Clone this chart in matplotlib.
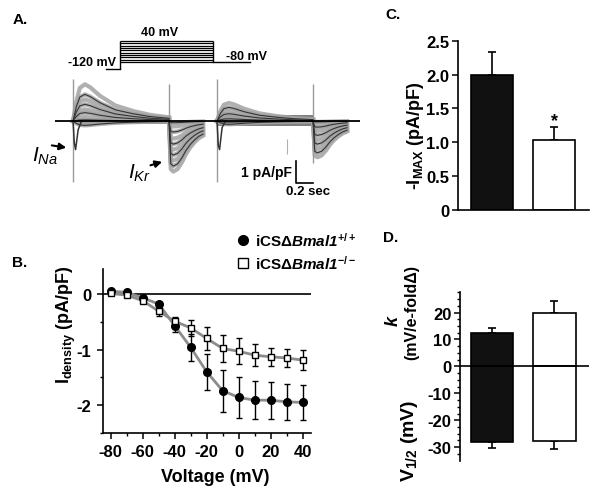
import matplotlib.pyplot as plt
from matplotlib.lines import Line2D

plt.rcParams['font.family'] = ['Liberation Sans', 'DejaVu Sans']
plt.rcParams['font.weight'] = 'bold'
plt.rcParams['axes.unicode_minus'] = False
plt.rcParams['mathtext.fontset'] = 'custom'
plt.rcParams['mathtext.rm'] = 'Liberation Sans:bold'
plt.rcParams['mathtext.bf'] = 'Liberation Sans:bold'
plt.rcParams['mathtext.it'] = 'Liberation Sans:italic:normal'
plt.rcParams['mathtext.bfit'] = 'Liberation Sans:bold:italic'

# ---- panel A: voltage protocol + example traces ----
prot_levels = [-80, -67, -53, -40, -27, -13, 0, 13, 27, 40]   # mV
prot_hold = -120
prot_post = -80
prot_times = [0.07, 0.235, 1.33, 1.765]                        # s: hold start, step on, step off, end

step_shape_t = [0, 0.04, 0.08, 0.14, 0.2, 0.32, 0.5, 0.71, 0.9, 1.13]
step_shape = [0, 0.55, 0.9, 1.0, 0.92, 0.68, 0.42, 0.27, 0.17, 0.1]
tail_shape_t = [0, 0.02, 0.05, 0.1, 0.15, 0.2, 0.25, 0.3, 0.35, 0.4]
tail_shape = [0, 0.95, 1.0, 0.95, 0.82, 0.65, 0.52, 0.42, 0.34, 0.29]
na_shape_t = [0, 0.015, 0.03, 0.06, 0.1]

peak_wt = [1.67, 1.21, 0.98, 0.76, 0.53, 0.38, 0.18, 0.05, -0.12, -0.2]
tail_wt = [2.3, 2.05, 1.8, 1.55, 1.3, 1.05, 0.8, 0.5, 0.25, 0.08]
na_wt = [0, -1.0, -1.3, -0.4, 0]
peak_ko = [0.82, 0.62, 0.47, 0.33, 0.2, 0.1, 0.03, -0.05, -0.1, -0.15]
tail_ko = [1.65, 1.45, 1.25, 1.05, 0.85, 0.65, 0.45, 0.28, 0.12, 0.04]
na_ko = [0, -1.1, -1.3, -0.3, 0]
sweep_on = [0.0, 1.694]
noise_wt = 0.13
noise_ko = 0.25

# ---- panel B: I-V ----
voltage = [-80, -70, -60, -50, -40, -30, -20, -10, 0, 10, 20, 30, 40]
i_wt = [0.05, 0.03, -0.07, -0.18, -0.57, -0.96, -1.40, -1.74, -1.86, -1.91, -1.91, -1.94, -1.95]
i_wt_err = [0.02, 0.02, 0.03, 0.04, 0.12, 0.24, 0.33, 0.38, 0.37, 0.34, 0.33, 0.32, 0.31]
i_ko = [0.01, -0.02, -0.12, -0.31, -0.49, -0.61, -0.80, -0.98, -1.03, -1.10, -1.13, -1.15, -1.19]
i_ko_err = [0.02, 0.02, 0.03, 0.08, 0.08, 0.14, 0.20, 0.24, 0.23, 0.20, 0.16, 0.16, 0.18]

# ---- panels C, D ----
imax = [2.0, 1.04]
imax_err = [0.34, 0.18]
k_slope = [12.5, 19.9]
k_err = [1.8, 4.3]
v_half = [-27.9, -27.7]
v_half_err = [2.5, 3.0]
bar_colors = ['#111111', 'white']

W, H = 602, 502
fig = plt.figure(figsize=(W / 100, H / 100), dpi=100)


def box(l, t, r, b):
    return [l / W, 1 - b / H, (r - l) / W, (b - t) / H]


def ftext(x, y, s, **kw):
    kw.setdefault('ha', 'center')
    kw.setdefault('va', 'center')
    fig.text(x / W, 1 - y / H, s, **kw)


# protocol
axp = fig.add_axes(box(100, 35, 260, 75))
axp.set_xlim(0, 160 / 85)
axp.set_ylim(-148.6, 80)
axp.axis('off')
t0, t1, t2, t3 = prot_times
axp.plot([t0, t1], [prot_hold, prot_hold], color='black', lw=1)
axp.vlines(t1, prot_hold, max(prot_levels), color='black', lw=1)
axp.hlines(prot_levels, t1, t2, color='black', lw=0.9)
axp.vlines(t2, prot_post, max(prot_levels), color='black', lw=1)
axp.plot([t2, t3], [prot_post, prot_post], color='black', lw=1)
ftext(92, 63, '-120 mV', fontsize=9)
ftext(160, 33, '40 mV', fontsize=9)
ftext(246, 57, '-80 mV', fontsize=9)

# traces
axt = fig.add_axes(box(20, 75, 362, 200))
axt.set_xlim(-0.624, 3.4)
axt.set_ylim(-3.545, 2.136)
axt.axis('off')

sets = [(sweep_on[0], peak_wt, tail_wt, na_wt, noise_wt),
        (sweep_on[1], peak_ko, tail_ko, na_ko, noise_ko)]
for t_on, peaks, tails, na, noise in sets:
    t_off = t_on + step_shape_t[-1]
    axt.fill_between([t_on, t_off], -noise, noise, color='#555555', alpha=0.75, lw=0, zorder=1)
    for i, (p, q) in enumerate(zip(peaks, tails)):
        ts = [t_on + s for s in step_shape_t]
        ys = [p * v for v in step_shape]
        tt = [t_off + s for s in tail_shape_t]
        yt = [-q * v for v in tail_shape]
        axt.plot(ts, ys, color='#a3a3a3', lw=3, alpha=0.85, zorder=2)
        axt.plot(tt, yt, color='#a3a3a3', lw=3, alpha=0.85, zorder=2)
        if i % 2 == 1:
            axt.plot(ts, ys, color='#333333', lw=0.8, zorder=3)
            axt.plot(tt, yt, color='#333333', lw=0.8, zorder=3)
    axt.plot([t_on + s for s in na_shape_t], na, color='#333333', lw=1.1, zorder=3)
    axt.vlines([t_on, t_off], [-2.77, -1.9], [1.9, 1.68], color='#9a9a9a', lw=1, zorder=2)

axt.vlines(2.52, -1.5, -0.8, color='#b0b0b0', lw=0.8)
axt.hlines(0, -0.212, 3.376, color='black', lw=1.3, zorder=5)

# scale bar
axt.plot([2.62, 2.62, 2.82], [-1.82, -2.82, -2.82], color='black', lw=1.2)
axt.text(2.58, -2.3, '1 pA/pF', ha='right', va='center', fontsize=10)
axt.text(2.765, -3.18, '0.2 sec', ha='center', va='center', fontsize=9.5)

axt.text(-0.33, -1.55, r'$I_{Na}$', ha='center', va='center', fontsize=15, fontweight='normal')
axt.annotate('', xy=(-0.047, -1.23), xytext=(-0.282, -1.09),
             arrowprops=dict(arrowstyle='-|>', lw=1.5, color='black', mutation_scale=10))
axt.text(0.776, -2.35, r'$I_{Kr}$', ha='center', va='center', fontsize=15, fontweight='normal')
axt.annotate('', xy=(1.08, -1.82), xytext=(0.88, -2.05),
             arrowprops=dict(arrowstyle='-|>', lw=1.5, color='black', mutation_scale=10))

# ---- panel B ----
axb = fig.add_axes(box(102.7, 270, 310.7, 434))
axb.set_xlim(-85, 45)
axb.set_ylim(-2.5, 0.45)
axb.axhline(0, color='black', lw=1.2, zorder=1)
axb.plot(voltage, i_wt, color='#8c8c8c', lw=2, zorder=2)
axb.plot(voltage, i_ko, color='#8c8c8c', lw=2, zorder=2)
axb.errorbar(voltage, i_wt, yerr=i_wt_err, fmt='none', ecolor='black',
             elinewidth=1, capsize=2.5, capthick=1, zorder=3)
axb.errorbar(voltage, i_ko, yerr=i_ko_err, fmt='none', ecolor='black',
             elinewidth=1, capsize=2.5, capthick=1, zorder=3)
axb.plot(voltage, i_wt, 'o', ms=5.5, color='black', zorder=4)
axb.plot(voltage, i_ko, 's', ms=5, mfc='white', mec='black', mew=1, zorder=4)
axb.set_xticks([-80, -60, -40, -20, 0, 20, 40])
axb.set_xticks([-70, -50, -30, -10, 10, 30], minor=True)
axb.set_yticks([-2, -1, 0])
axb.set_yticks([-2.5, -1.5, -0.5], minor=True)
for s in ['top', 'right']:
    axb.spines[s].set_visible(False)

handles = [Line2D([], [], marker='o', ls='none', color='black', ms=7),
           Line2D([], [], marker='s', ls='none', mfc='white', mec='black', mew=1, ms=6.5)]
labels = [r'iCSΔ$\mathbfit{Bmal1}^{\mathbf{+/+}}$', r'iCSΔ$\mathbfit{Bmal1}^{\mathbf{-/-}}$']
fig.legend(handles, labels, loc='upper left', bbox_to_anchor=(226 / W, 1 - 224 / H),
           frameon=False, fontsize=11, handletextpad=0.2, labelspacing=0.35,
           borderpad=0, handlelength=1.2)

ftext(66, 325, r'I$_{\mathbf{density}}$ (pA/pF)', rotation=90, fontsize=13)
ftext(215, 478, 'Voltage (mV)', fontsize=13)

# ---- panel C ----
axc = fig.add_axes(box(457.7, 41.7, 589, 211))
axc.set_xlim(-0.54, 1.55)
axc.set_ylim(0, 2.5)
axc.bar([0, 1], imax, width=0.67, color=bar_colors, edgecolor='black', lw=1.2, zorder=2)
axc.errorbar([0, 1], imax, yerr=[[0, 0], imax_err], fmt='none', ecolor='black',
             elinewidth=1.2, capsize=3, capthick=1.2, zorder=1)
axc.text(1, imax[1] + imax_err[1] + 0.1, '*', ha='center', va='center', fontsize=13)
axc.set_xticks([])
axc.set_yticks([0, 0.5, 1.0, 1.5, 2.0, 2.5])
axc.set_yticklabels(['0', '0.5', '1.0', '1.5', '2.0', '2.5'])
for s in ['top', 'right']:
    axc.spines[s].set_visible(False)
ftext(415, 136, r'-I$_{\mathbf{MAX}}$ (pA/pF)', rotation=90, fontsize=13)

# ---- panel D ----
axd = fig.add_axes(box(460, 293.3, 589, 461.7))
axd.set_xlim(-0.505, 1.55)
axd.set_ylim(-35, 27.5)
axd.bar([0, 1], k_slope, width=0.67, color=bar_colors, edgecolor='black', lw=1.2, zorder=2)
axd.bar([0, 1], v_half, width=0.67, color=bar_colors, edgecolor='black', lw=1.2, zorder=2)
axd.errorbar([0, 1], k_slope, yerr=[[0, 0], k_err], fmt='none', ecolor='black',
             elinewidth=1.2, capsize=3, capthick=1.2, zorder=1)
axd.errorbar([0, 1], v_half, yerr=[v_half_err, [0, 0]], fmt='none', ecolor='black',
             elinewidth=1.2, capsize=3, capthick=1.2, zorder=1)
axd.axhline(0, color='black', lw=1.2, zorder=3)
axd.set_xticks([])
axd.set_yticks([-30, -20, -10, 0, 10, 20])
axd.set_yticks([-32.5, -27.5, -25, -22.5, -17.5, -15, -12.5, -7.5, -5, -2.5,
                2.5, 5, 7.5, 12.5, 15, 17.5, 22.5, 25, 27.5], minor=True)
for s in ['top', 'right', 'bottom']:
    axd.spines[s].set_visible(False)
ftext(393, 321, 'k', rotation=90, fontsize=13, style='italic')
ftext(412, 312, '(mV/e-foldΔ)', rotation=90, fontsize=11.5)
ftext(409, 441, r'V$_{\mathbf{1/2}}$ (mV)', rotation=90, fontsize=14)

for ax in [axb, axc, axd]:
    for s in ax.spines.values():
        s.set_linewidth(1.2)
    ax.tick_params(direction='out', length=4, width=1.1, labelsize=12, pad=2)
    ax.tick_params(which='minor', direction='out', length=2.5, width=1)
axb.tick_params(pad=4)

# panel letters
ftext(20, 20, 'A.', fontsize=11)
ftext(20, 263, 'B.', fontsize=11)
ftext(393, 15, 'C.', fontsize=11)
ftext(391, 238, 'D.', fontsize=11)

fig.savefig('out.png', dpi=100)
